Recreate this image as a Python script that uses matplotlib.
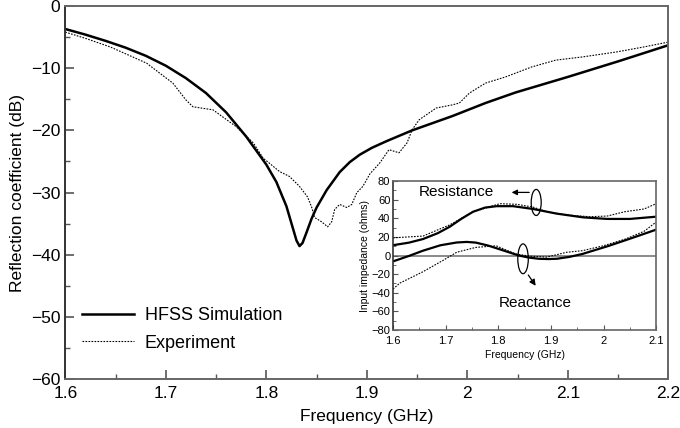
import matplotlib
matplotlib.use("Agg")
import matplotlib.pyplot as plt
from matplotlib.patches import Ellipse
from matplotlib.ticker import MultipleLocator

plt.rcParams['font.family'] = ['Liberation Sans', 'DejaVu Sans']

# Reflection coefficient - simulacao HFSS
sim_f = [1.60, 1.62, 1.64, 1.66, 1.68, 1.70, 1.72, 1.74, 1.76, 1.78, 1.80, 1.81,
         1.82, 1.826, 1.830, 1.833, 1.836, 1.840, 1.845, 1.85, 1.86, 1.873,
         1.883, 1.893, 1.905, 1.92, 1.945, 1.985, 2.018, 2.048, 2.10, 2.15, 2.2]
sim_db = [-3.7, -4.6, -5.6, -6.7, -8.0, -9.6, -11.6, -14.0, -17.1, -21.0, -25.5, -28.3,
          -32.2, -35.5, -37.7, -38.6, -38.1, -36.4, -34.2, -32.4, -29.6, -26.7,
          -25.1, -23.9, -22.8, -21.7, -20.0, -17.7, -15.6, -13.9, -11.4, -8.9, -6.3]

# Reflection coefficient - medido
exp_f = [1.60, 1.62, 1.645, 1.681, 1.707, 1.72, 1.727, 1.747, 1.77, 1.787, 1.797,
         1.801, 1.813, 1.823, 1.833, 1.841, 1.845, 1.848, 1.855, 1.861, 1.865,
         1.868, 1.873, 1.88, 1.885, 1.89, 1.896, 1.903, 1.913, 1.922, 1.932,
         1.94, 1.945, 1.952, 1.969, 1.985, 1.992, 2.002, 2.018, 2.038, 2.064,
         2.088, 2.114, 2.148, 2.175, 2.2]
exp_db = [-4.2, -5.2, -6.6, -9.2, -12.4, -15.1, -16.2, -16.7, -19.4, -22.0, -24.5,
          -25.0, -26.6, -27.4, -29.0, -30.7, -32.3, -34.0, -34.7, -35.5, -34.7,
          -32.7, -31.9, -32.4, -31.9, -30.0, -29.0, -27.0, -25.2, -23.1, -23.6,
          -22.0, -19.9, -18.3, -16.4, -15.9, -15.6, -14.0, -12.4, -11.4, -9.8,
          -8.7, -8.2, -7.4, -6.6, -5.8]

# Impedancia de entrada (inset) - simulacao
z_f = [1.60, 1.63, 1.657, 1.685, 1.708, 1.73, 1.752, 1.775, 1.797, 1.828, 1.866,
       1.911, 1.961, 2.007, 2.05, 2.1]
res_sim = [11.1, 13.8, 17.7, 24.0, 31.0, 39.5, 47.0, 51.5, 53.0, 53.0, 50.0,
           45.0, 41.0, 39.3, 39.3, 41.7]
zr_f = [1.60, 1.63, 1.657, 1.69, 1.721, 1.74, 1.757, 1.78, 1.801, 1.82, 1.839,
        1.858, 1.877, 1.895, 1.911, 1.935, 1.96, 2.01, 2.055, 2.1]
reac_sim = [-6.3, -0.5, 5.2, 11.0, 14.0, 14.6, 13.9, 10.8, 7.0, 3.5, 0.0,
            -2.2, -3.5, -3.8, -3.5, -1.5, 1.7, 10.4, 19.0, 27.8]

# Impedancia de entrada (inset) - medido
ze_f = [1.60, 1.657, 1.708, 1.752, 1.803, 1.835, 1.866, 1.892, 1.93, 1.974,
        2.007, 2.04, 2.077, 2.1]
res_exp = [19.0, 20.9, 33.0, 47.0, 55.7, 55.0, 52.0, 47.0, 43.5, 41.7,
           42.4, 47.0, 50.0, 55.7]
zx_f = [1.60, 1.613, 1.657, 1.695, 1.721, 1.757, 1.796, 1.833, 1.86, 1.892,
        1.93, 1.96, 1.999, 2.04, 2.077, 2.1]
reac_exp = [-36.0, -29.6, -17.4, -5.2, 3.5, 8.7, 10.4, 1.7, -0.7, -1.7,
            3.5, 5.2, 10.4, 17.4, 26.0, 36.0]

dotted = (0, (1.5, 1.2))

fig = plt.figure(figsize=(6.8, 4.28), dpi=100)
ax = fig.add_axes([0.096, 0.114, 0.887, 0.872])

ax.plot(sim_f, sim_db, color='black', lw=1.8, label='HFSS Simulation')
ax.plot(exp_f, exp_db, color='black', lw=0.8, ls=dotted, label='Experiment')

ax.set_xlim(1.6, 2.2)
ax.set_ylim(-60, 0)
ax.xaxis.set_minor_locator(MultipleLocator(0.05))
ax.yaxis.set_major_locator(MultipleLocator(10))
ax.yaxis.set_minor_locator(MultipleLocator(5))
ax.set_xticks([1.6, 1.7, 1.8, 1.9, 2.0, 2.1, 2.2])
ax.set_xticklabels(['1.6', '1.7', '1.8', '1.9', '2', '2.1', '2.2'])
ax.tick_params(which='both', direction='in', labelsize=12.5, color='#555555')
ax.tick_params(axis='x', pad=5)
ax.tick_params(which='major', length=6.5, width=1.2)
ax.tick_params(which='minor', length=3.5, width=1.0)
ax.set_xlabel('Frequency (GHz)', fontsize=12.5, labelpad=6)
ax.set_ylabel('Reflection coefficient (dB)', fontsize=12.5, labelpad=4)
for s in ax.spines.values():
    s.set_color('#666666')
    s.set_linewidth(1.4)
ax.spines['left'].set_color('#333333')

ax.legend(loc='lower left', bbox_to_anchor=(0.0, 0.03), frameon=False, fontsize=13,
          handlelength=2.9, handletextpad=0.6, labelspacing=0.6)

# inset
ins = fig.add_axes([0.578, 0.229, 0.387, 0.348])
ins.plot(z_f, res_sim, color='black', lw=1.6)
ins.plot(zr_f, reac_sim, color='black', lw=1.6)
ins.plot(ze_f, res_exp, color='black', lw=0.8, ls=dotted)
ins.plot(zx_f, reac_exp, color='black', lw=0.8, ls=dotted)
ins.axhline(0, color='#777777', lw=1.2, zorder=0)

ins.set_xlim(1.6, 2.1)
ins.set_ylim(-80, 80)
ins.set_xticks([1.6, 1.7, 1.8, 1.9, 2.0, 2.1])
ins.set_xticklabels(['1.6', '1.7', '1.8', '1.9', '2', '2.1'])
ins.xaxis.set_minor_locator(MultipleLocator(0.05))
ins.yaxis.set_major_locator(MultipleLocator(20))
ins.yaxis.set_minor_locator(MultipleLocator(10))
ins.tick_params(which='both', direction='in', labelsize=8, color='#555555', pad=2)
ins.tick_params(axis='x', pad=4)
ins.tick_params(which='major', length=3.5)
ins.tick_params(which='minor', length=2)
ins.set_xlabel('Frequency (GHz)', fontsize=7.5, labelpad=3)
ins.set_ylabel('Input impedance (ohms)', fontsize=7.5, labelpad=1)
for s in ins.spines.values():
    s.set_color('#666666')
    s.set_linewidth(1.2)
ins.spines['left'].set_color('#333333')

ins.add_patch(Ellipse((1.872, 57), 0.019, 28, fill=False, lw=0.9, color='black'))
ins.add_patch(Ellipse((1.847, -3.5), 0.02, 32, fill=False, lw=0.9, color='black'))
ins.annotate('', xy=(1.820, 67.8), xytext=(1.864, 67.8),
             arrowprops=dict(arrowstyle='-|>', color='black', lw=0.9, mutation_scale=8))
ins.annotate('', xy=(1.874, -35), xytext=(1.854, -18.5),
             arrowprops=dict(arrowstyle='-|>', color='black', lw=0.9, mutation_scale=9))
ins.text(1.72, 67.8, 'Resistance', fontsize=11, ha='center', va='center')
ins.text(1.87, -51, 'Reactance', fontsize=11, ha='center', va='center')

plt.savefig('out.png', dpi=100)
